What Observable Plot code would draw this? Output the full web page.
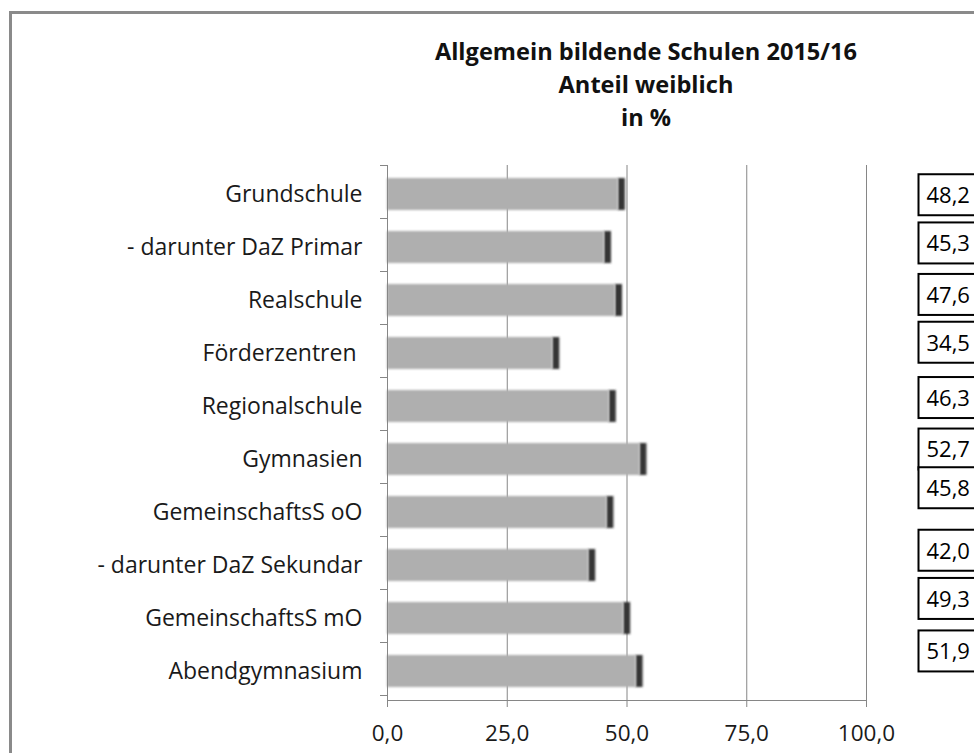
<!DOCTYPE html>
<html><head><meta charset="utf-8">
<script src="https://cdn.jsdelivr.net/npm/d3@7"></script>
<script src="https://cdn.jsdelivr.net/npm/@observablehq/plot@0.6"></script>
<style>
html,body{margin:0;padding:0;background:#fff;overflow:hidden;}
#wrap{position:relative;width:974px;height:753px;overflow:hidden;font-family:"Open Sans",sans-serif;}
#chart{position:absolute;left:0;top:0;}
#border{position:absolute;left:9px;top:11px;width:1400px;height:1400px;border:3px solid #8a8a8a;box-sizing:border-box;pointer-events:none;}
#title{position:absolute;left:396px;top:35px;width:500px;text-align:center;font-weight:bold;font-size:23.6px;line-height:33px;color:#111;}
</style>
</head><body>
<div id="wrap">
  <div id="chart"></div>
  <div id="title">Allgemein bildende Schulen 2015/16<br>Anteil weiblich<br>in %</div>
  <div id="border"></div>
</div>
<script>
const categories = ["Grundschule","- darunter DaZ Primar","Realschule","Förderzentren ","Regionalschule","Gymnasien","GemeinschaftsS oO","- darunter DaZ Sekundar","GemeinschaftsS mO","Abendgymnasium"];
const values = [48.2, 45.3, 47.6, 34.5, 46.3, 52.7, 45.8, 42.0, 49.3, 51.9];
const xTicks = [0, 25, 50, 75, 100];
// manual vertical nudges of the value boxes (px), as placed in the original
const labelShift = [1.5, -3.3, -4.8, -10, -7.7, -9.2, -23.5, -14, -18.8, -19.3];

const fmt = v => v.toFixed(1).replace(".", ",");
const data = categories.map((c, i) => ({cat: c, value: values[i]}));

const chart = Plot.plot({
  width: 974, height: 753,
  marginTop: 165, marginBottom: 53, marginLeft: 387, marginRight: 108,
  style: {fontFamily: "'Open Sans', sans-serif", fontSize: "22px", background: "transparent", color: "#1a1a1a"},
  x: {domain: [0, 100]},
  y: {domain: categories, paddingInner: 0.4, paddingOuter: 0.2},
  marks: [
    Plot.gridX({ticks: xTicks.slice(1), stroke: "#868686", strokeOpacity: 1}),
    Plot.barX(data, {x1: "value", x2: "value", y: "cat", insetRight: -7, fill: "#353535"}),
    Plot.barX(data, {x: "value", y: "cat", fill: "#afafaf"}),
    Plot.ruleX([0], {stroke: "#868686"}),
    Plot.frame({anchor: "bottom", stroke: "#868686"}),
    Plot.axisX({ticks: xTicks, tickFormat: fmt, tickSize: 7, tickPadding: 18, stroke: "#868686", fill: "#1a1a1a", label: null, fontSize: 22.5}),
    Plot.axisY({tickSize: 0, tickPadding: 25, label: null, fontSize: 23, fill: "#1a1a1a"}),
    ...data.map((d, i) => Plot.text([d], {y: "cat", text: e => fmt(e.value), frameAnchor: "right", dx: 60, dy: labelShift[i], textAnchor: "start", fill: "#000", fontSize: 22}))
  ]
});
document.getElementById("chart").appendChild(chart);

const svg = d3.select(chart);
const defs = svg.insert("defs", ":first-child");
defs.append("filter").attr("id", "blurBar").attr("x", "-5%").attr("y", "-30%").attr("width", "110%").attr("height", "160%")
  .append("feGaussianBlur").attr("stdDeviation", 0.8);
defs.append("filter").attr("id", "blurCap").attr("x", "-100%").attr("y", "-30%").attr("width", "300%").attr("height", "160%")
  .append("feGaussianBlur").attr("stdDeviation", 1.3);
const barGroups = svg.selectAll('g[aria-label="bar"]').nodes();
if (barGroups[0]) d3.select(barGroups[0]).attr("filter", "url(#blurCap)");
if (barGroups[1]) d3.select(barGroups[1]).attr("filter", "url(#blurBar)");

// y-axis category boundary ticks
const ys = chart.scale("y"), xs = chart.scale("x");
const x0 = xs.apply(0);
const tickG = svg.append("g").attr("stroke", "#868686");
for (let i = 0; i <= categories.length; i++) {
  const yy = Math.round(ys.range[0] + i * ys.step) + 0.5;
  tickG.append("line").attr("x1", x0 - 7).attr("x2", x0).attr("y1", yy).attr("y2", yy);
}

// boxes around the value labels
const sr = chart.getBoundingClientRect();
const boxG = svg.append("g");
const textGroups = svg.selectAll('g[aria-label="text"]').nodes();
textGroups.forEach(g => {
  const t = g.querySelector("text");
  const r = t.getBoundingClientRect();
  const cy = r.top - sr.top + r.height / 2 + 0.7;
  boxG.append("rect").attr("x", r.left - sr.left - 8).attr("y", cy - 20.5)
    .attr("width", 80).attr("height", 41).attr("fill", "#fff").attr("stroke", "#000").attr("stroke-width", 2);
});
textGroups.forEach(g => d3.select(g).raise());
</script>
</body></html>
